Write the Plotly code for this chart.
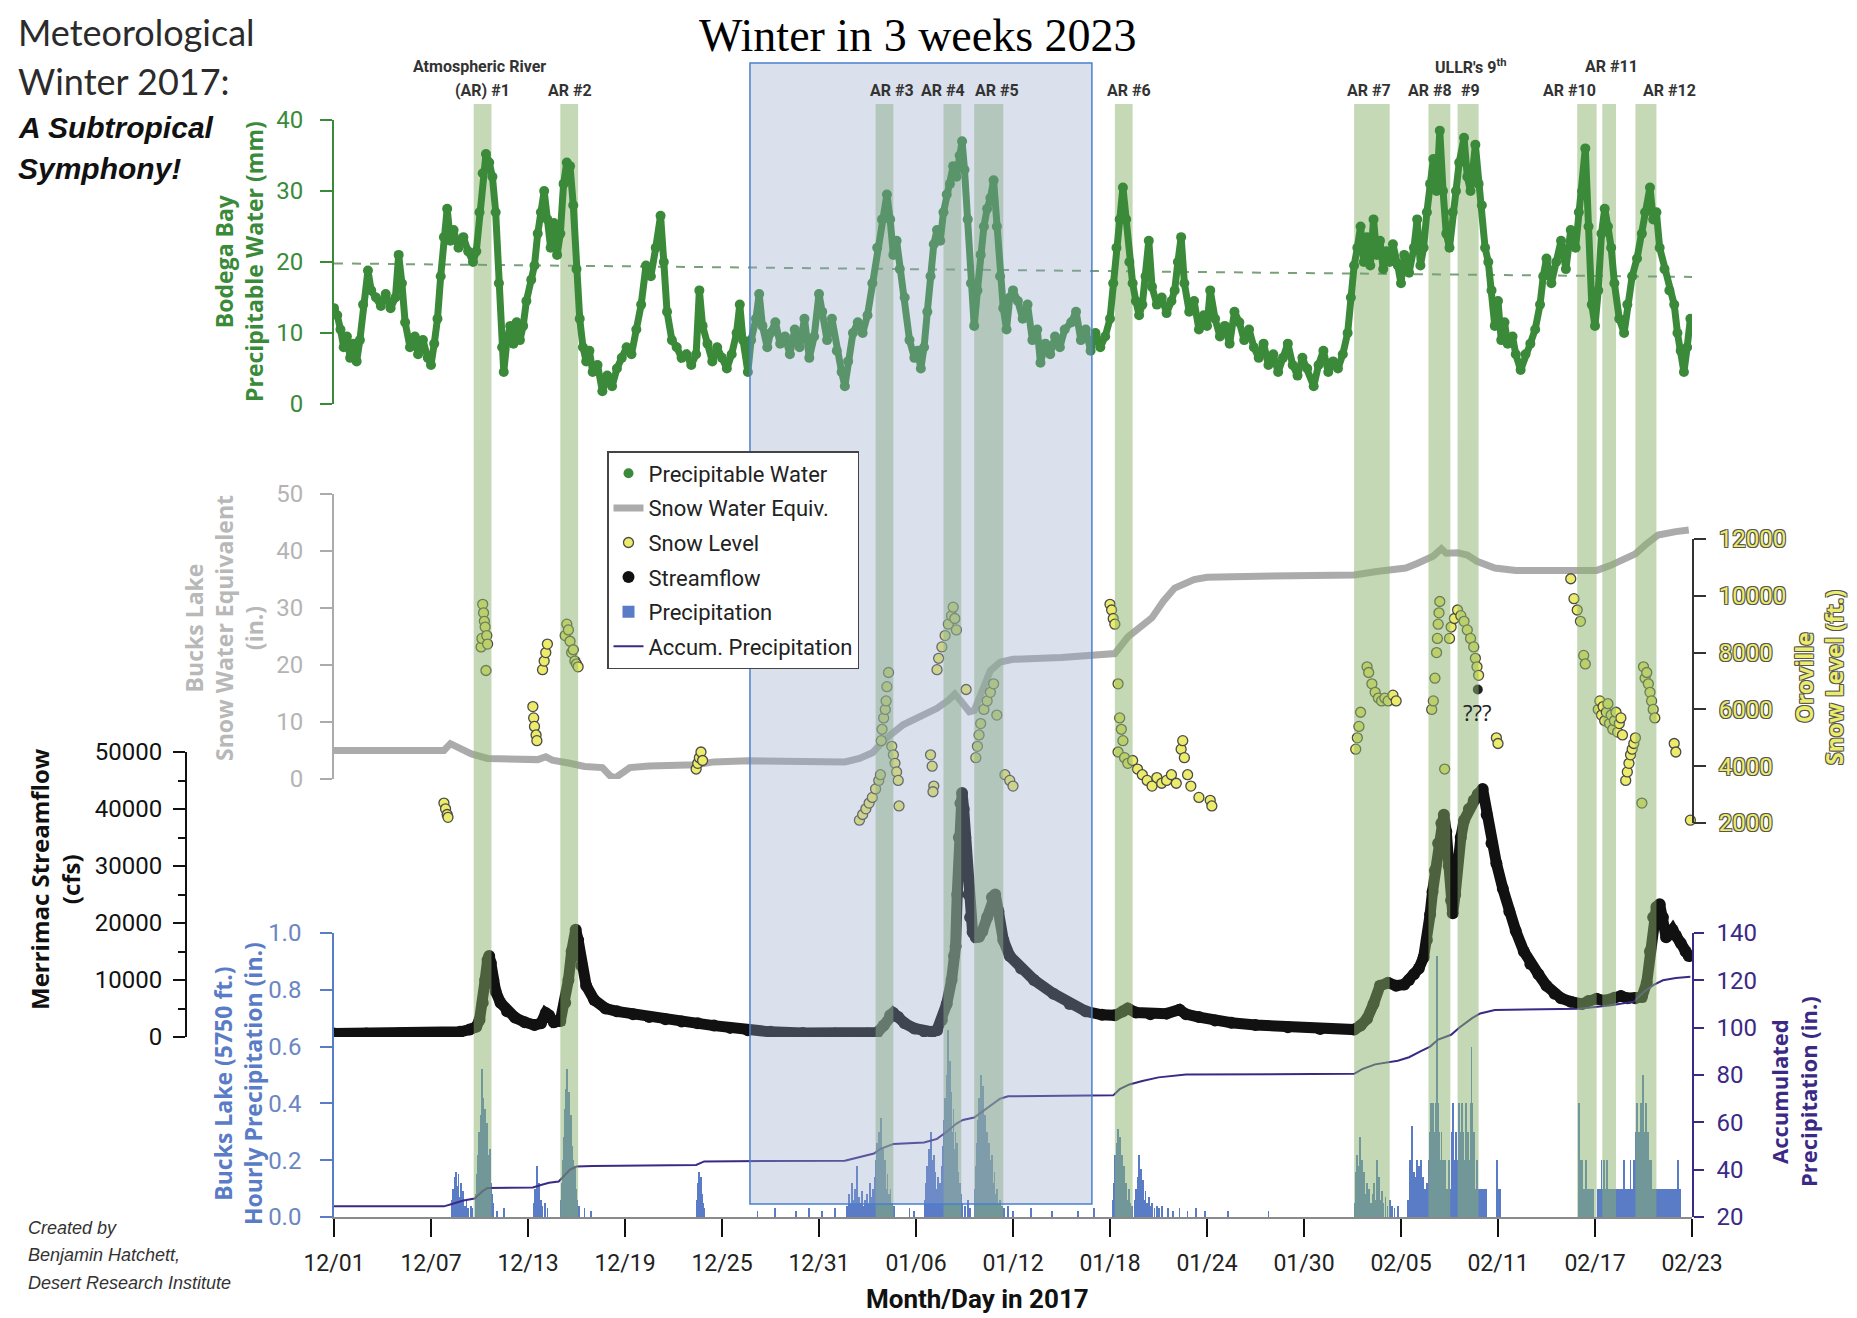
import plotly.graph_objects as go

W, H = 1857, 1318

# ----------------------------- DATA -----------------------------
# days since 12/01 (2016)
pw_day = [0.0,0.2,0.4,0.6,0.8,1.0,1.2,1.4,1.6,1.8,2.1,2.3,2.6,2.9,3.2,3.5,3.8,4.0,4.2,4.4,4.7,5.0,5.2,5.5,5.8,6.0,6.2,6.4,6.6,6.8,
          7.0,7.2,7.4,7.7,8.0,8.3,8.6,8.8,9.0,9.2,9.4,9.6,9.8,10.0,10.2,10.4,10.5,10.7,10.9,11.1,11.3,11.5,11.7,11.9,12.2,12.4,12.6,12.8,13.0,13.2,
          13.4,13.6,13.8,14.0,14.2,14.4,14.6,14.8,15.0,15.2,15.4,15.6,15.8,16.0,16.3,16.6,16.9,17.2,17.5,17.8,18.1,18.4,18.7,19.0,19.3,19.6,19.9,20.2,20.4,20.6,
          20.9,21.2,21.5,21.8,22.1,22.4,22.6,22.8,23.1,23.4,23.7,24.0,24.3,24.6,24.9,25.1,25.3,25.6,25.8,26.1,26.3,26.5,26.8,27.0,27.3,27.6,27.9,28.2,28.5,28.8,
          29.1,29.4,29.7,30.0,30.2,30.5,30.8,31.1,31.4,31.6,31.8,32.1,32.4,32.7,33.0,33.3,33.6,33.9,34.2,34.4,34.6,34.8,35.0,35.3,35.6,35.9,36.1,36.3,36.5,36.7,
          36.9,37.1,37.3,37.5,37.7,37.9,38.1,38.3,38.5,38.7,38.85,39.0,39.2,39.4,39.6,39.8,40.0,40.2,40.4,40.6,40.8,41.0,41.2,41.4,41.6,41.8,42.0,42.3,42.6,42.9,
          43.2,43.5,43.7,44.0,44.3,44.6,44.9,45.2,45.6,45.9,46.2,46.5,46.8,47.1,47.4,47.7,48.0,48.2,48.4,48.6,48.8,49.0,49.2,49.4,49.6,49.8,50.0,50.2,50.4,50.6,
          50.9,51.2,51.5,51.8,52.0,52.2,52.4,52.6,52.9,53.2,53.5,53.8,54.0,54.2,54.5,54.8,55.1,55.4,55.7,56.0,56.3,56.6,56.9,57.2,57.5,57.8,58.1,58.4,58.7,59.0,
          59.3,59.6,59.9,60.2,60.6,60.9,61.2,61.5,61.8,62.1,62.4,62.7,62.9,63.1,63.3,63.5,63.7,63.9,64.1,64.3,64.5,64.7,64.9,65.1,65.3,65.5,65.8,66.0,66.2,66.5,
          66.8,67.0,67.2,67.4,67.6,67.8,68.0,68.2,68.4,68.6,68.8,69.0,69.2,69.4,69.6,69.9,70.1,70.3,70.6,70.8,71.0,71.2,71.4,71.6,71.8,72.0,72.2,72.4,72.6,72.9,
          73.1,73.4,73.7,74.0,74.3,74.6,74.8,75.0,75.3,75.6,75.9,76.2,76.5,76.8,77.0,77.2,77.4,77.6,77.8,78.0,78.2,78.4,78.6,78.8,79.0,79.2,79.5,79.8,80.0,80.3,
          80.6,80.9,81.1,81.4,81.6,81.8,82.0,82.3,82.6,82.9,83.1,83.3,83.5,83.7,83.9]
pw_mm = [13.5,12.5,10.5,8.0,9.5,6.5,8.5,6.0,9.0,14.0,18.8,16.0,15.0,13.8,15.5,13.5,15.0,21.0,17.0,11.5,8.0,9.5,7.0,9.0,6.5,5.5,8.5,12.0,18.0,23.5,
         27.5,23.0,24.5,22.0,23.5,21.5,20.0,21.5,27.0,32.5,35.2,34.0,32.0,27.0,17.0,8.0,4.5,9.0,11.0,8.5,11.5,9.0,11.0,14.5,17.5,19.5,24.0,27.0,30.0,26.0,
         22.0,25.5,21.0,24.0,31.0,34.0,33.5,28.0,19.0,12.0,8.0,6.0,7.5,4.5,5.5,1.8,4.0,2.5,5.0,6.5,8.0,7.0,10.5,14.0,19.5,18.0,22.0,26.5,20.0,13.0,
         9.0,8.0,6.5,7.0,5.5,7.0,16.0,11.0,8.5,6.0,8.0,6.5,5.0,7.0,10.0,14.0,9.0,4.5,9.0,12.0,15.5,11.0,8.0,10.0,11.5,8.5,9.5,7.0,10.5,8.0,
         12.0,6.5,9.5,15.5,13.0,9.0,12.0,7.5,4.5,2.5,6.0,10.0,11.5,10.0,12.5,17.0,22.0,26.0,29.5,26.0,21.0,23.0,19.0,15.0,9.0,6.5,7.5,5.0,8.0,13.0,
         18.0,22.5,24.5,23.0,27.0,29.5,31.0,33.5,32.0,35.0,37.0,33.0,26.0,17.0,11.0,16.0,21.0,25.0,27.5,29.0,31.5,25.0,18.0,13.5,10.5,15.0,16.0,14.5,12.0,14.0,
         9.0,10.5,5.8,8.5,7.0,9.5,8.0,10.5,11.5,13.0,9.0,10.5,7.5,10.0,8.0,9.5,12.0,17.0,22.0,26.0,30.5,26.0,20.0,17.0,14.5,12.5,14.0,18.0,23.0,16.5,
         14.0,15.0,12.8,14.5,16.0,20.0,23.5,17.0,13.0,14.5,10.5,12.5,11.0,16.0,12.0,9.5,11.0,8.5,13.0,11.5,9.0,10.5,8.0,6.5,8.5,5.5,7.0,4.5,6.5,8.5,
         5.5,4.0,6.5,5.0,2.5,5.5,7.5,4.5,6.0,5.0,7.0,10.0,15.0,19.5,22.0,25.0,20.0,23.5,19.5,26.0,21.0,23.0,19.0,21.5,20.0,22.5,19.5,17.0,21.0,18.5,
         22.0,26.0,19.5,22.0,27.0,31.0,34.5,30.0,38.5,30.0,24.0,22.0,27.0,30.0,34.0,37.5,32.0,30.0,36.5,31.0,28.0,22.0,20.0,16.0,11.0,14.5,9.0,11.5,8.5,9.5,
         7.0,4.8,7.0,8.5,10.5,14.0,18.0,20.5,17.0,20.0,23.0,19.0,24.5,22.0,27.0,30.0,36.0,25.0,14.0,11.0,16.0,24.0,27.5,25.0,22.0,17.0,12.0,10.0,14.0,18.0,
         20.5,24.0,27.0,30.5,26.0,27.0,22.0,19.0,16.0,14.0,10.0,7.5,4.5,8.0,12.0]
pw_mean_day = [0, 84]
pw_mean_mm = [19.8, 17.9]

swe_day = [0,6.8,7.2,7.6,8.5,9.5,11,12.6,13.1,13.5,14.5,15.5,16.6,17.1,17.4,17.8,18.3,19.5,22.4,23.5,25.6,31.6,32.5,33.3,34.1,35.2,36.3,37.3,38.0,38.4,
           38.8,39.3,39.6,40.1,40.6,41.2,42.0,45,48.3,49.1,50.0,50.6,51.3,52.0,53.2,54.0,58.0,63.1,64.5,66.3,67.0,68.0,68.5,68.8,69.5,70.1,70.7,71.8,73.1,78.1,
           78.9,80.5,81.2,81.9,83.0,83.8]
swe_in = [5.0,5.0,6.2,5.6,4.4,3.6,3.4,3.4,3.9,3.3,2.8,2.2,2.0,0.5,0.2,1.0,2.0,2.3,2.5,3.0,3.2,3.0,3.6,4.6,7.0,9.5,11.0,12.4,13.8,14.9,
          13.6,11.8,12.0,15.5,19.0,20.5,21.0,21.3,22.0,24.9,27.0,28.3,31.2,33.5,35.0,35.4,35.6,35.8,36.4,37.0,37.8,39.1,40.4,39.6,39.7,39.3,38.2,37.0,36.6,36.6,
          37.4,39.5,41.3,42.8,43.4,43.7]

sl_day = [6.8,6.9,7.0,7.05,
          9.1,9.15,9.2,9.25,9.3,9.35,9.4,9.45,9.5,
          12.3,12.35,12.4,12.5,12.55,12.9,13.0,13.1,13.2,
          14.3,14.4,14.5,14.6,14.7,14.8,14.9,15.0,15.1,
          22.4,22.5,22.6,22.7,22.8,
          32.3,32.5,32.7,32.9,33.1,33.3,33.5,33.7,33.8,33.85,33.9,34.0,34.1,34.15,34.2,34.3,
          34.5,34.6,34.7,34.8,34.9,34.95,
          36.9,37.0,37.1,37.05,
          37.3,37.4,37.6,37.8,38.0,38.2,38.3,38.4,38.5,39.1,
          39.7,39.8,39.9,40.0,40.2,40.4,40.6,40.8,41.0,41.5,41.8,42.0,
          48.0,48.1,48.2,48.3,48.5,48.5,48.6,48.7,48.8,48.9,49.1,49.4,49.7,50.0,50.3,50.6,50.9,51.2,51.5,51.8,52.1,52.4,52.5,52.6,52.8,53.0,53.5,54.2,54.3,
          63.2,63.3,63.4,63.5,63.9,64.0,64.2,64.4,64.6,64.8,65.0,65.2,65.5,65.7,
          67.9,68.0,68.1,68.2,68.25,68.3,68.35,68.4,68.7,
          69.0,69.1,69.3,69.5,69.7,69.9,70.1,70.3,70.5,70.6,70.7,70.8,
          71.9,72.0,
          76.5,76.7,76.9,77.1,77.3,77.4,
          78.2,78.3,78.4,78.5,78.6,78.7,78.8,78.9,79.0,79.1,79.2,79.3,79.4,79.5,79.6,79.7,
          79.9,80.0,80.1,80.2,80.3,80.4,80.5,80.9,
          81.0,81.1,81.2,81.3,81.4,81.5,81.6,81.7,
          82.9,83.0,83.9]
sl_ft = [2700,2500,2300,2200,
         8200,8500,9700,9400,9100,8900,7370,8600,8300,
         6100,5700,5400,5100,4900,7400,7700,8000,8300,
         8600,9000,8800,8400,8000,8100,7700,7600,7500,
         3900,4100,4300,4500,4200,
         1950,2100,2300,2500,2700,2900,3200,3500,3700,4900,5300,5700,6000,6300,6800,7300,
         4700,4400,4100,3800,3500,2600,
         4400,4000,3300,3100,
         7400,7800,8200,8600,9000,9300,9600,9200,8800,6700,
         4300,4700,5100,5500,6000,6300,6600,6900,5800,3700,3500,3300,
         9700,9500,9200,9000,6900,4500,5700,5300,4900,4300,4100,4200,3900,3700,3500,3300,3600,3400,3500,3700,3400,4600,4900,4300,3700,3300,2900,2800,2600,
         4600,5000,5400,5900,7500,7300,6900,6600,6400,6300,6400,6300,6500,6300,
         6000,6300,7100,8000,8500,9000,9400,9800,3900,
         8500,8900,9200,9500,9300,9100,8800,8500,8200,7800,7500,7200,
         5000,4800,
         10600,9900,9500,9100,7900,7600,
         6000,6300,5800,6100,5600,5900,6200,5500,5800,5300,5600,5900,5200,5500,5700,5100,
         3500,3800,4100,4400,4600,4800,5000,2700,
         7500,7100,7300,6900,6600,6300,6000,5700,
         4800,4500,2100]
sl_odd_day = [70.75]
sl_odd_ft = [6700]

q_day = [0,2,4,6,7.2,7.8,8.4,8.8,9.0,9.2,9.35,9.5,9.6,9.7,9.85,10.0,10.3,10.7,11.2,11.8,12.4,12.8,13.1,13.3,13.6,14.0,14.3,14.5,14.7,14.95,
         15.1,15.3,15.6,16.1,16.8,17.5,18.5,19.5,20.5,21.5,22.5,23.5,24.5,25.6,27,29,31,33,33.6,34.0,34.4,34.6,34.9,35.3,35.9,36.5,37.0,37.3,37.6,37.9,
         38.2,38.35,38.45,38.55,38.65,38.75,38.85,38.95,39.05,39.15,39.25,39.35,39.5,39.7,39.9,40.1,40.4,40.7,40.9,41.1,41.4,41.8,42.5,43.3,44.5,45.5,46.5,47.5,48.3,48.8,
         49.1,49.6,50.5,51.5,52.3,52.7,53.5,54.5,55.5,57,59,61,63.1,63.5,63.9,64.3,64.7,65.2,65.7,66.2,66.5,66.8,67.1,67.4,67.6,67.8,67.95,68.1,68.3,68.5,
         68.65,68.8,68.95,69.1,69.2,69.35,69.5,69.7,69.9,70.2,70.5,70.75,71.05,71.3,71.6,71.9,72.3,72.7,73.1,73.6,74.0,74.5,75.0,75.5,75.9,76.5,77.2,77.6,78.1,78.6,
         79.2,79.6,80.0,80.5,80.9,81.2,81.4,81.6,81.8,82.0,82.2,82.4,82.6,82.8,83.0,83.3,83.6,83.8]
q_cfs = [600,600,600,600,650,900,1300,1800,3000,6000,10000,13500,14200,13000,10000,8000,6000,4500,3400,2600,2100,2400,4200,3800,2600,2800,6000,10000,15000,18800,
         17000,12500,9000,6500,5000,4500,4000,3500,3100,2700,2400,2000,1600,1200,900,700,600,600,800,2000,3800,4200,3500,2400,1500,1000,900,1200,3000,5800,
         10000,14200,15900,25000,35000,41000,42800,40000,35000,30000,25000,21000,18400,17500,17600,18500,21000,24500,25000,22000,17000,14200,12000,10000,7600,5800,4500,3900,3800,4500,
         5000,4300,4000,4100,4800,4000,3500,2900,2500,2100,1700,1400,1300,2000,3200,5800,9000,9500,9000,9200,10000,11000,12000,14000,17000,21500,25500,29200,34000,37500,
         39000,36000,30000,24000,21700,25000,31000,35000,38000,40000,41500,42600,43500,39000,34000,30500,26000,22000,18600,15000,12800,11000,9000,7600,6800,6200,5800,6300,6700,6400,
         6900,7200,6800,6800,7000,9500,15000,21000,22800,23300,21000,17500,18000,18800,17800,16500,15000,14200]

pr_day = [7.30,7.38,7.45,7.50,7.56,7.62,7.70,7.76,7.84,7.92,8.00,8.10,8.20,8.30,8.45,8.55,
          8.80,8.86,8.92,8.98,9.04,9.10,9.16,9.22,9.28,9.34,9.40,9.46,9.52,9.58,9.64,9.70,9.76,9.84,10.1,10.5,
          12.35,12.45,12.55,12.62,12.70,12.80,12.90,13.05,13.20,
          14.05,14.12,14.18,14.24,14.30,14.36,14.42,14.48,14.54,14.60,14.66,14.72,14.78,14.84,14.90,14.96,15.05,15.15,15.5,15.9,
          22.45,22.52,22.58,22.64,22.70,22.78,22.85,22.92,
          26.2,27.3,28.6,29.4,30.2,31.0,
          31.75,31.85,31.95,32.05,32.15,32.25,32.35,32.45,32.55,32.65,32.75,32.85,32.95,33.05,33.15,33.25,33.35,
          33.45,33.52,33.58,33.64,33.70,33.76,33.82,33.88,33.94,34.00,34.08,34.16,34.24,34.32,34.42,34.52,34.62,
          35.6,35.9,
          36.55,36.62,36.70,36.76,36.82,36.88,36.94,37.00,37.06,37.12,37.18,37.26,37.34,37.42,37.50,37.58,
          37.66,37.72,37.78,37.84,37.90,37.96,38.02,38.08,38.14,38.20,38.26,38.32,38.38,38.44,38.50,38.56,38.62,38.70,38.78,38.86,
          39.05,39.2,39.35,
          39.62,39.68,39.74,39.80,39.86,39.92,39.98,40.04,40.10,40.16,40.22,40.28,40.34,40.40,40.46,40.52,40.58,40.64,40.70,40.78,40.86,40.94,41.02,41.10,41.20,41.30,41.45,41.7,42.0,
          43.1,44.4,46.0,47.0,
          48.20,48.26,48.32,48.38,48.44,48.50,48.56,48.62,48.68,48.74,48.80,48.86,48.92,49.00,49.08,49.16,49.26,49.36,
          49.55,49.62,49.70,49.78,49.84,49.90,49.96,50.04,50.12,50.20,50.30,50.40,50.50,50.62,50.75,50.90,51.05,51.2,
          51.6,51.9,52.3,52.8,53.3,53.9,55.3,57.8,
          63.12,63.18,63.24,63.30,63.36,63.42,63.48,63.54,63.60,63.66,63.72,63.80,63.88,63.96,64.04,64.14,64.24,64.34,64.42,64.50,64.56,64.64,64.72,64.82,64.92,65.04,65.16,65.30,65.45,65.6,65.8,
          66.45,66.52,66.58,66.64,66.70,66.76,66.82,66.88,66.94,67.00,67.06,67.12,67.18,67.24,67.30,67.38,67.46,67.54,67.62,
          67.70,67.76,67.82,67.88,67.94,68.00,68.06,68.12,68.18,68.24,68.30,68.36,68.42,68.50,68.58,68.66,68.74,68.82,68.90,68.98,69.06,
          69.15,69.22,69.30,69.38,69.45,
          69.52,69.58,69.64,69.70,69.76,69.82,69.88,69.94,70.00,70.06,70.12,70.18,70.24,70.30,70.36,70.42,70.48,70.54,70.60,70.68,70.76,70.84,
          70.95,71.05,71.15,71.25,71.92,72.00,72.10,
          77.00,77.06,77.12,77.20,77.28,77.36,77.44,77.52,77.62,77.74,77.86,
          78.20,78.30,78.40,78.48,78.56,78.64,78.72,78.80,78.90,79.00,79.10,79.20,79.30,79.40,79.50,79.60,79.70,79.80,79.90,80.00,80.10,80.20,80.30,
          80.42,80.50,80.56,80.62,80.68,80.74,80.80,80.86,80.92,80.98,81.04,81.10,81.16,81.22,81.28,81.34,81.40,81.48,81.56,81.64,81.74,81.84,
          81.95,82.05,82.15,82.25,82.35,82.45,82.55,82.65,82.75,82.85,82.95,83.05,83.15,83.25]
pr_in = [0.06,0.10,0.14,0.08,0.16,0.11,0.15,0.07,0.12,0.05,0.09,0.04,0.06,0.03,0.04,0.03,
         0.08,0.15,0.22,0.30,0.26,0.36,0.52,0.42,0.32,0.38,0.28,0.33,0.22,0.18,0.24,0.12,0.08,0.05,0.02,0.03,
         0.05,0.10,0.18,0.08,0.12,0.06,0.04,0.05,0.03,
         0.06,0.12,0.20,0.28,0.38,0.45,0.52,0.40,0.44,0.30,0.36,0.25,0.20,0.14,0.18,0.10,0.06,0.04,0.03,0.02,
         0.06,0.12,0.16,0.10,0.14,0.08,0.05,0.03,
         0.02,0.03,0.02,0.03,0.02,0.03,
         0.04,0.08,0.05,0.12,0.06,0.10,0.18,0.07,0.05,0.09,0.04,0.06,0.08,0.05,0.12,0.07,0.10,
         0.14,0.20,0.26,0.16,0.30,0.22,0.35,0.18,0.24,0.14,0.20,0.10,0.15,0.08,0.10,0.05,0.04,
         0.03,0.02,
         0.06,0.12,0.18,0.10,0.24,0.15,0.30,0.20,0.12,0.22,0.16,0.10,0.14,0.08,0.12,0.18,
         0.25,0.34,0.42,0.30,0.50,0.66,0.40,0.55,0.36,0.44,0.30,0.38,0.24,0.30,0.20,0.26,0.16,0.12,0.08,0.05,
         0.04,0.06,0.03,
         0.10,0.18,0.26,0.34,0.22,0.42,0.30,0.50,0.38,0.46,0.28,0.36,0.24,0.30,0.18,0.26,0.20,0.14,0.22,0.12,0.16,0.08,0.10,0.05,0.06,0.04,0.03,0.04,0.02,
         0.03,0.02,0.02,0.03,
         0.06,0.12,0.22,0.16,0.26,0.31,0.20,0.28,0.14,0.22,0.12,0.18,0.08,0.12,0.06,0.10,0.05,0.04,
         0.06,0.10,0.14,0.22,0.12,0.17,0.08,0.13,0.06,0.09,0.05,0.07,0.04,0.05,0.03,0.04,0.03,0.04,
         0.03,0.02,0.03,0.02,0.03,0.02,0.02,0.02,
         0.05,0.10,0.16,0.22,0.12,0.18,0.28,0.14,0.20,0.10,0.16,0.08,0.12,0.06,0.10,0.05,0.08,0.12,0.06,0.20,0.10,0.14,0.06,0.09,0.05,0.07,0.04,0.06,0.04,0.03,0.04,
         0.06,0.12,0.20,0.14,0.32,0.10,0.16,0.08,0.14,0.20,0.10,0.18,0.12,0.20,0.08,0.14,0.10,0.06,0.12,
         0.20,0.30,0.22,0.40,0.30,0.40,0.20,0.30,0.40,0.92,0.40,0.30,0.20,0.30,0.20,0.10,0.20,0.10,0.10,0.20,0.10,
         0.30,0.40,0.20,0.30,0.10,
         0.20,0.40,0.30,0.20,0.40,0.30,0.10,0.20,0.40,0.20,0.30,0.10,0.20,0.40,0.60,0.40,0.20,0.30,0.10,0.20,0.10,0.10,
         0.10,0.10,0.10,0.10,0.20,0.10,0.10,
         0.40,0.20,0.10,0.20,0.10,0.10,0.20,0.10,0.10,0.10,0.10,
         0.10,0.10,0.20,0.10,0.20,0.10,0.20,0.10,0.10,0.10,0.10,0.10,0.10,0.10,0.10,0.10,0.10,0.20,0.10,0.10,0.10,0.20,0.10,
         0.20,0.30,0.20,0.40,0.20,0.30,0.20,0.40,0.30,0.50,0.30,0.20,0.40,0.20,0.30,0.20,0.10,0.20,0.10,0.10,0.10,0.10,
         0.10,0.10,0.10,0.10,0.10,0.10,0.10,0.10,0.10,0.10,0.10,0.10,0.20,0.10]

acc_day = [0,6.8,7.3,8.0,8.7,8.9,9.2,9.5,12.3,12.8,13.3,13.9,14.2,14.6,15.0,16,22.4,22.9,31.6,32.3,33.4,33.8,34.6,36.5,37.3,37.9,38.5,38.9,39.6,40.1,
           40.6,41.2,41.7,48.2,48.6,49.2,50.0,51.0,52.7,63.1,63.6,64.4,65.8,66.5,67.2,67.8,68.3,69.1,69.6,70.4,70.9,71.8,77.0,78.1,79.0,80.4,81.0,81.6,82.2,83.0,83.9]
acc_in = [24.5,24.5,25.5,27,27.8,29,31,32.3,32.5,33.5,34.5,35,37,40,41.3,41.6,42,43.5,43.8,45,46.8,48.8,50.8,51.5,53,56,59.5,61,62,64.5,
          67,70,71,71.4,74,76,77.5,79,80.2,80.5,82.5,84.5,86,87.5,90,92,95,97,100,104,106,107.5,108,108.7,109.5,111,115,118,120,121,121.5]

ar_start = [8.64,14.0,33.5,37.7,39.6,48.3,63.1,67.7,69.5,76.9,78.45,80.5]
ar_end   = [9.74,15.1,34.6,38.8,41.4,49.4,65.3,69.05,70.8,78.1,79.3,81.8]

ar_label_day  = [9.0,9.2,14.6,34.5,37.7,41.0,49.2,64.0,67.8,70.3,70.3,76.4,79.0,82.6]
ar_label_text = ["Atmospheric River","(AR) #1","AR #2","AR #3","AR #4","AR #5","AR #6",
                 "AR #7","AR #8","#9","ULLR's 9<sup>th</sup>","AR #10","AR #11","AR #12"]
ar_label_row  = [0,1,1,1,1,1,1,1,1,1,0,1,0,1]

box_day = [25.73, 46.88]

tick_days = [0,6,12,18,24,30,36,42,48,54,60,66,72,78,84]
tick_labels = ["12/01","12/07","12/13","12/19","12/25","12/31","01/06","01/12",
               "01/18","01/24","01/30","02/05","02/11","02/17","02/23"]

# ----------------------------- STYLE -----------------------------
OFF = 8   # page body margin of the html page
def px(x): return (x - OFF) / W
def py(y): return 1 - (y - OFF) / H

GREEN = "#3a8a3a"
GREY = "#ababab"
YEL = "#ecec6a"
BLUE = "#5a7cc6"
PURP = "#3b2a85"
COND = "Roboto, Lato, sans-serif"
SANS = "Open Sans, DejaVu Sans, sans-serif"
HELV = "Liberation Sans, Arial, sans-serif"
OUTLINE = "1px 1px 0 #555, -1px -1px 0 #555, 1px -1px 0 #555, -1px 1px 0 #555"

fig = go.Figure()

# PW
fig.add_trace(go.Scatter(x=pw_mean_day, y=pw_mean_mm, yaxis="y", mode="lines",
                         line=dict(color="#7aa07a", width=2, dash="dash"),
                         showlegend=False, hoverinfo="skip"))
fig.add_trace(go.Scatter(x=pw_day, y=pw_mm, yaxis="y", mode="lines",
                         line=dict(color=GREEN, width=7), showlegend=False))
fig.add_trace(go.Scatter(x=pw_day, y=pw_mm, yaxis="y", mode="markers", name="Precipitable Water",
                         marker=dict(color=GREEN, size=10), legendrank=1, legendgroup="a"))
# SWE
fig.add_trace(go.Scatter(x=swe_day, y=swe_in, yaxis="y2", mode="lines", name="Snow Water Equiv.",
                         line=dict(color=GREY, width=7), legendrank=2, legendgroup="b"))
# Snow level
fig.add_trace(go.Scatter(x=sl_day, y=sl_ft, yaxis="y3", mode="markers", name="Snow Level",
                         marker=dict(color=YEL, size=10, line=dict(color="#4a4a4a", width=1.3)),
                         cliponaxis=False, legendrank=3, legendgroup="c"))
fig.add_trace(go.Scatter(x=sl_odd_day, y=sl_odd_ft, yaxis="y3", mode="markers",
                         marker=dict(color="#222", size=10), showlegend=False))
# Streamflow
fig.add_trace(go.Scatter(x=q_day, y=q_cfs, yaxis="y4", mode="lines",
                         line=dict(color="#111", width=11), showlegend=False))
fig.add_trace(go.Scatter(x=q_day, y=q_cfs, yaxis="y4", mode="markers", name="Streamflow",
                         marker=dict(color="#111", size=12), legendrank=4, legendgroup="d"))
# Precip
fig.add_trace(go.Bar(x=pr_day, y=pr_in, yaxis="y5", name="Precipitation", width=0.05,
                     marker=dict(color=BLUE, line=dict(width=0)), legendrank=5, legendgroup="e"))
# Accum
fig.add_trace(go.Scatter(x=acc_day, y=acc_in, yaxis="y6", mode="lines", name="Accum. Precipitation",
                         line=dict(color=PURP, width=2), legendrank=6, legendgroup="f"))

# ----------------------------- SHAPES -----------------------------
shapes = []
split = py(440)
for a, b in zip(ar_start, ar_end):
    shapes.append(dict(type="rect", xref="x", yref="paper", x0=a, x1=b, y0=split, y1=py(104),
                       fillcolor="#c5d9b6", line=dict(width=0), layer="below"))
    shapes.append(dict(type="rect", xref="x", yref="paper", x0=a, x1=b, y0=py(1217), y1=split,
                       fillcolor="rgba(138,178,108,0.5)", line=dict(width=0), layer="above"))
shapes.append(dict(type="rect", xref="x", yref="paper", x0=box_day[0], x1=box_day[1],
                   y0=py(1204), y1=py(63), fillcolor="rgba(149,166,201,0.35)",
                   line=dict(color="#4a7fcf", width=1.5), layer="above"))

# ----------------------------- ANNOTATIONS -----------------------------
ann = []
def A(text, x, y, size, color="#222", family=SANS, angle=0, xanchor="center", yanchor="middle",
      xref="paper", yref="paper", align="center", shadow=None, weight=None):
    f = dict(size=size, color=color, family=family)
    if shadow:
        f["shadow"] = shadow
    if weight:
        f["weight"] = weight
    ann.append(dict(text=text, x=x, y=y, xref=xref, yref=yref, showarrow=False, textangle=angle,
                    xanchor=xanchor, yanchor=yanchor, font=f, align=align))

A("Winter in 3 weeks 2023", px(918), 1.0, 46, "#000", "Liberation Serif, Times New Roman, serif",
  yanchor="top")
A("Meteorological", px(16), 1.0, 36, "#2b2b2b", "Lato, sans-serif", xanchor="left", yanchor="top")
A("Winter 2017:", px(16), py(81), 36, "#2b2b2b", "Lato, sans-serif", xanchor="left")
A("<b><i>A Subtropical</i></b>", px(16), py(127), 30, "#111", HELV, xanchor="left")
A("<b><i>Symphony!</i></b>", px(16), py(169), 30, "#111", HELV, xanchor="left")

for d, t, r in zip(ar_label_day, ar_label_text, ar_label_row):
    A("<b>" + t + "</b>", d, py(67 if r == 0 else 90), 16, "#333", COND, xref="x")

A("<b>Bodega Bay<br>Precipitable Water (mm)</b>", px(239), py(262), 23, GREEN, angle=-90)
A("<b>Bucks Lake<br>Snow Water Equivalent<br>(in.)</b>", px(224), py(628), 23, "#b8b8b8", angle=-90)
A("<b>Merrimac Streamflow<br>(cfs)</b>", px(55), py(879), 24, "#111", angle=-90)
A("<b>Bucks Lake (5750 ft.)<br>Hourly Precipitation (in.)</b>", px(238), py(1084), 23, BLUE, angle=-90)
A("<b>Oroville<br>Snow Level (ft.)</b>", px(1819), py(678), 23, YEL, angle=-90, shadow=OUTLINE)
A("<b>Accumulated<br>Precipitation (in.)</b>", px(1793), py(1092), 22, PURP, angle=-90)

A("<i>Created by</i>", px(26), py(1228), 18, "#333", HELV, xanchor="left")
A("<i>Benjamin Hatchett,</i>", px(26), py(1255), 18, "#333", HELV, xanchor="left")
A("<i>Desert Research Institute</i>", px(26), py(1283), 18, "#333", HELV, xanchor="left")
A("<b>Month/Day in 2017</b>", px(978), py(1299), 26, "#111", COND)
A("???", sl_odd_day[0], 5900, 22, "#222", SANS, xref="x", yref="y3")

# ----------------------------- AXES -----------------------------
def yax(dom, rng, color, tickvals, labcolor, side="left", anchor="x", position=None, ticklen=12,
        standoff=8, fontsize=24, shadow=None, minor=None, linew=2, fmt=None):
    f = dict(size=fontsize, color=labcolor, family=COND)
    if shadow:
        f["shadow"] = shadow
    d = dict(domain=[py(dom[0]), py(dom[1])], range=rng, side=side, anchor=anchor,
             showline=True, linecolor=color, linewidth=linew, ticks="outside", ticklen=ticklen,
             tickwidth=2, tickcolor=color, tickvals=tickvals, tickfont=f, showgrid=False,
             zeroline=False, ticklabelstandoff=standoff, fixedrange=True, automargin=False)
    if position is not None:
        d["position"] = position
    if minor:
        d["minor"] = minor
    if fmt:
        d["tickformat"] = fmt
    return d

layout = dict(
    width=W, height=H, margin=dict(l=0, r=0, t=0, b=0, pad=0, autoexpand=False),
    paper_bgcolor="white", plot_bgcolor="rgba(0,0,0,0)",
    bargap=0, barmode="overlay",
    xaxis=dict(domain=[px(334), px(1692)], range=[0, 84], anchor="y5", showline=True,
               linecolor="#8a8a8a", linewidth=2, ticks="outside", ticklen=18, tickwidth=2,
               tickcolor="#111", tickvals=tick_days, ticktext=tick_labels,
               tickfont=dict(size=23, color="#222", family=COND), showgrid=False,
               zeroline=False, ticklabelstandoff=6, automargin=False),
    yaxis=yax((404, 120), [0, 40], GREEN, [0, 10, 20, 30, 40], GREEN, standoff=12),
    yaxis2=yax((779, 494), [0, 50], GREY, [0, 10, 20, 30, 40, 50], "#b4b4b4", standoff=12),
    yaxis3=yax((823, 539), [2000, 12000], "#333", [2000, 4000, 6000, 8000, 10000, 12000], YEL,
               side="right", standoff=8, shadow=OUTLINE, fmt="d"),
    yaxis4=yax((1037, 752), [0, 50000], "#111", [0, 10000, 20000, 30000, 40000, 50000], "#111",
               anchor="free", position=px(186), standoff=6, fmt="d",
               minor=dict(dtick=5000, ticklen=7, tickwidth=2, tickcolor="#111", ticks="outside")),
    yaxis5=yax((1217, 933), [0, 1], BLUE, [0, 0.2, 0.4, 0.6, 0.8, 1.0], "#6b86c2", standoff=14,
               linew=1.5, fmt=".1f"),
    yaxis6=yax((1217, 933), [20, 140], PURP, [20, 40, 60, 80, 100, 120, 140], PURP, side="right",
               standoff=8, ticklen=10, linew=1.5, fmt="d"),
    shapes=shapes, annotations=ann,
    legend=dict(x=px(607), y=py(451), xanchor="left", yanchor="top", bgcolor="white",
                bordercolor="#444", borderwidth=1.5, traceorder="grouped", tracegroupgap=3,
                font=dict(family=COND, size=22, color="#222")),
)
fig.update_layout(**layout)

fig.write_html("out.html")
